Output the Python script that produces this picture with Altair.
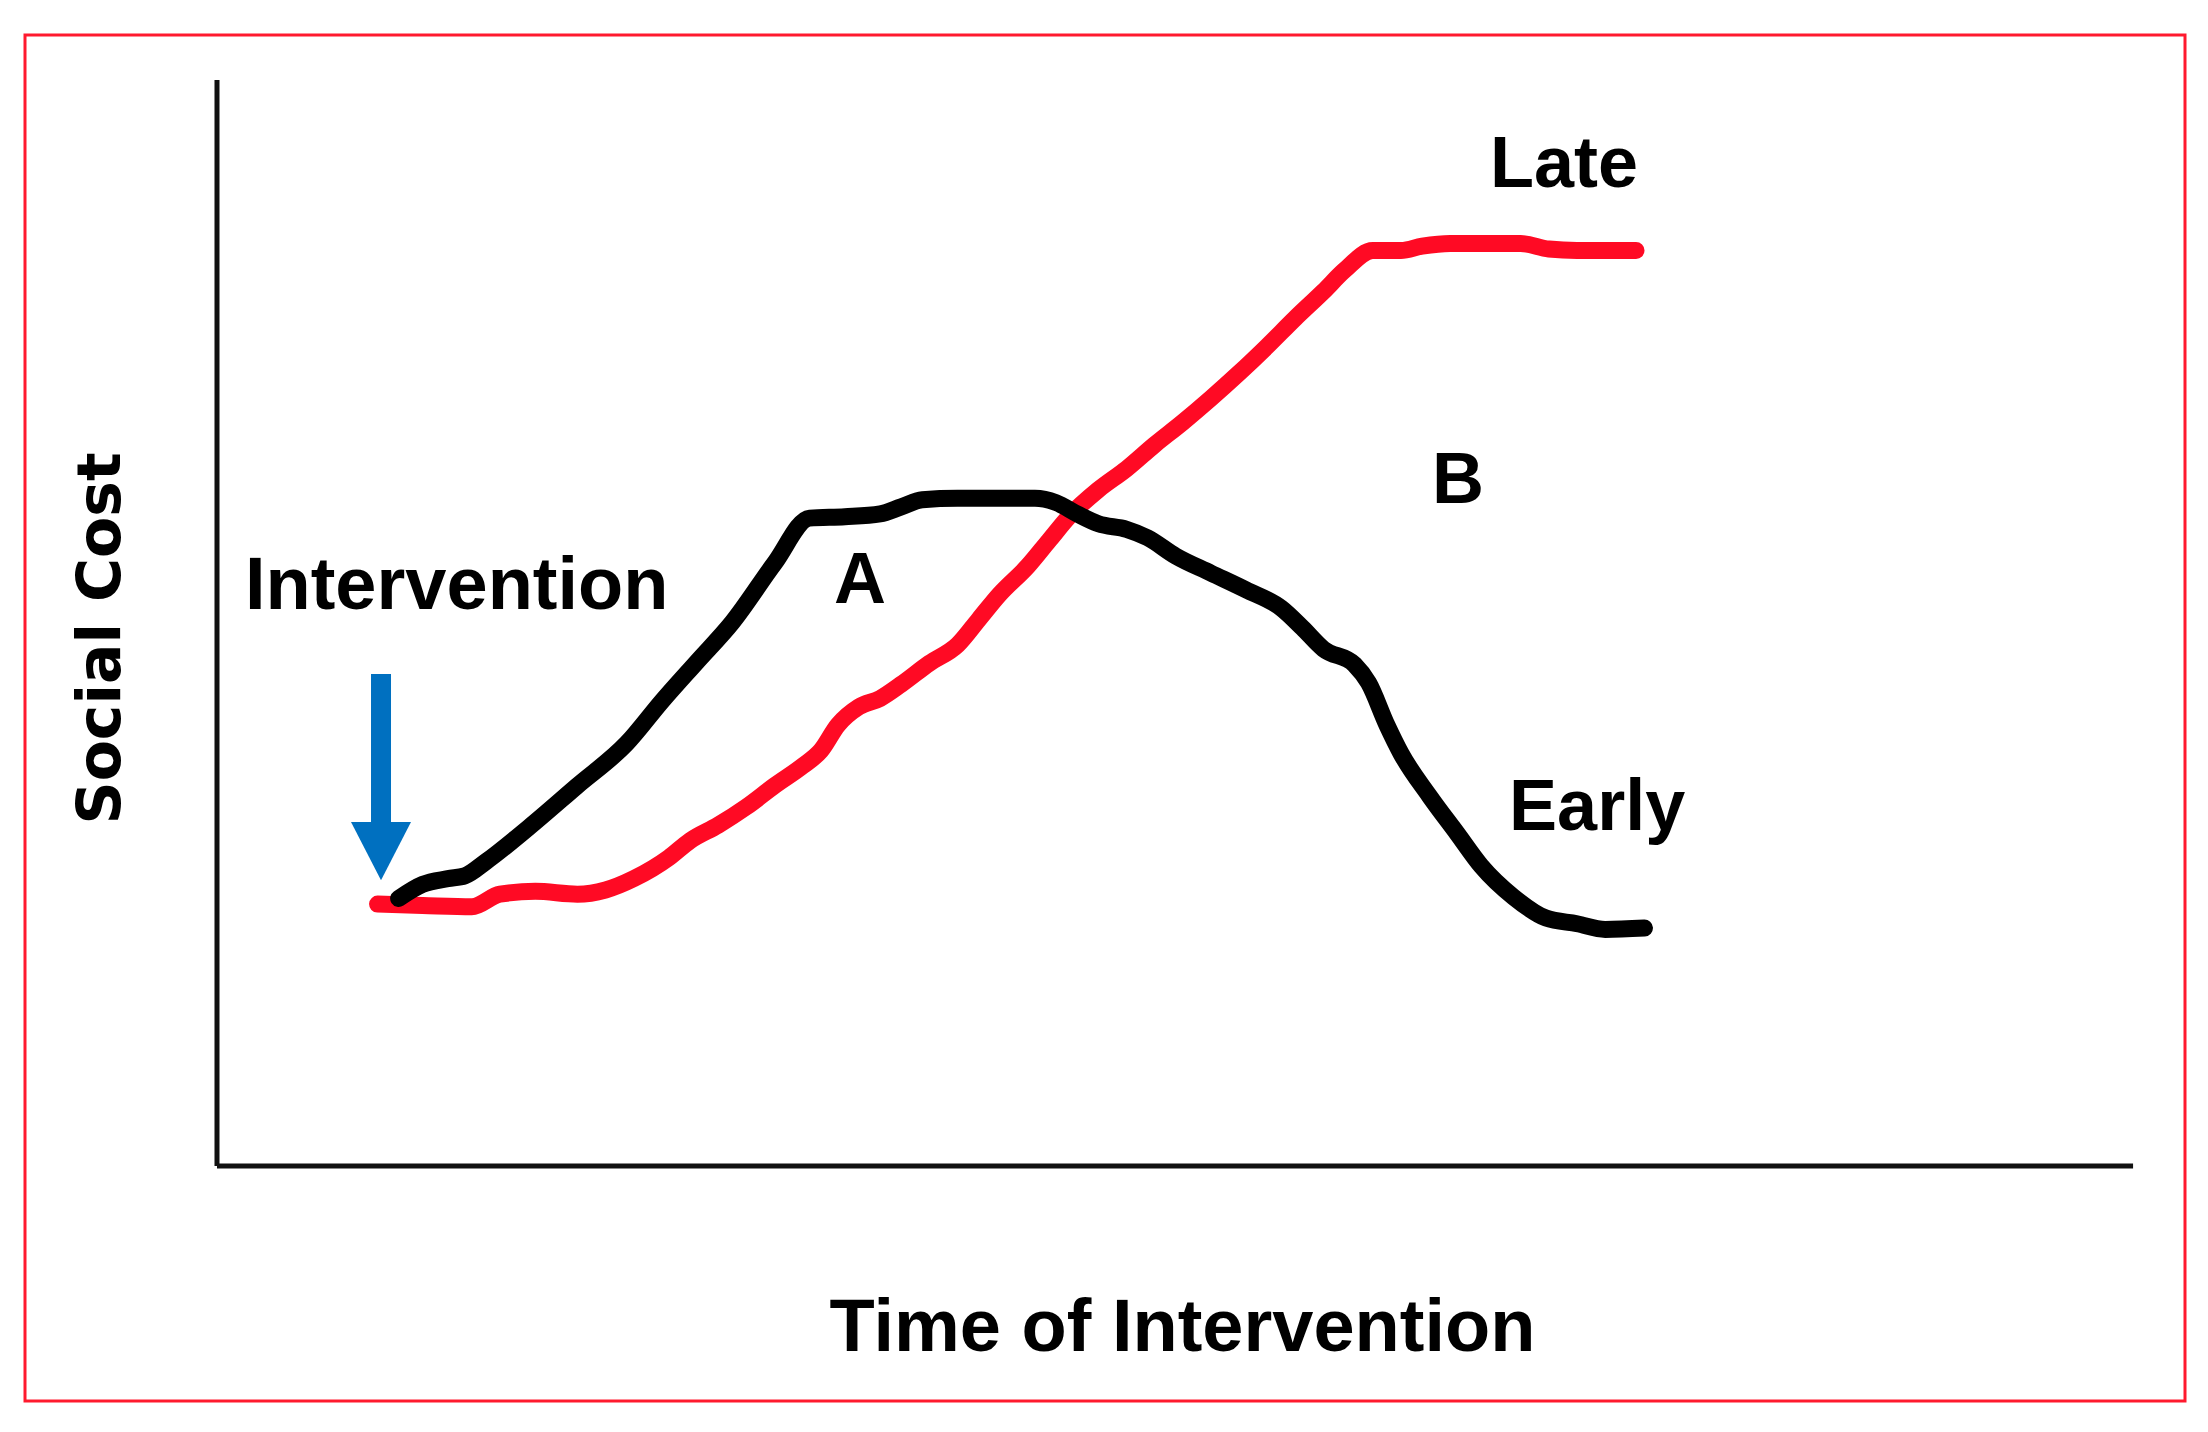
import altair as alt
import pandas as pd

# ---- data (x, y in 0-100 axis units) ----
early_x = [9.48, 10.73, 12.05, 12.93, 14.03, 16.24, 18.81, 21.38, 23.22, 25.05, 26.89, 29.10,
           30.93, 32.77, 34.61, 35.71, 36.81, 38.65, 42.69, 43.79, 44.89, 46.00, 47.47, 48.57,
           50.04, 51.87, 53.71, 55.55, 56.65, 57.75, 59.37, 60.10, 61.06, 61.79, 63.26, 64.73,
           65.98, 67.67, 69.36, 70.98, 72.45, 74.50]
early_y = [24.64, 25.94, 26.46, 26.72, 28.02, 31.13, 35.02, 38.91, 42.80, 46.43, 50.06, 55.51,
           59.66, 59.79, 60.05, 60.70, 61.35, 61.48, 61.48, 61.09, 60.05, 59.14, 58.63, 57.85,
           56.16, 54.60, 53.05, 51.36, 49.55, 47.60, 46.17, 44.49, 40.60, 38.00, 34.11, 30.61,
           27.63, 24.77, 22.83, 22.31, 21.79, 21.92]

late_x = [8.38, 10.73, 13.30, 14.77, 16.61, 18.81, 20.28, 21.75, 23.59, 24.69, 26.16, 27.63,
          29.10, 30.57, 31.52, 32.40, 33.50, 34.61, 35.71, 37.18, 38.65, 39.75, 40.85, 42.32,
          43.42, 44.53, 45.99, 47.47, 48.93, 50.40, 51.87, 53.34, 54.81, 56.28, 57.75, 58.85,
          60.32, 61.79, 62.90, 64.36, 68.04, 69.51, 70.98, 74.06]
late_y = [24.12, 23.99, 23.87, 25.03, 25.29, 25.03, 25.42, 26.46, 28.40, 29.96, 31.39, 33.07,
          35.02, 36.84, 38.26, 40.60, 42.28, 43.06, 44.36, 46.30, 47.99, 50.32, 52.66, 55.25,
          57.59, 59.92, 62.26, 64.20, 66.41, 68.48, 70.69, 73.02, 75.49, 78.08, 80.54, 82.49,
          84.31, 84.31, 84.70, 84.95, 84.95, 84.44, 84.31, 84.31]

label_text = ["Intervention", "A", "B", "Late", "Early"]
label_x = [1.46, 33.56, 64.77, 70.30, 72.03]
label_y = [51.29, 51.84, 61.05, 90.15, 30.94]
label_align = ["left", "center", "center", "center", "center"]

arrow_x = [8.56]
arrow_top = [45.3]
arrow_base = [31.3]
arrow_head_y = [29.0]

axis_x = [0, 0]
axis_x2 = [0, 100]
axis_y = [0, 0]
axis_y2 = [100, 0]

x_title = "Time of Intervention"
y_title = "Social Cost"

# ---- scales ----
XDOM = [-10.02, 102.71]
YDOM = [-21.64, 104.15]
xs = alt.Scale(domain=XDOM, nice=False, zero=False)
ys = alt.Scale(domain=YDOM, nice=False, zero=False)

FONT = "Liberation Sans"

early = pd.DataFrame({"x": early_x, "y": early_y, "o": range(len(early_x))})
late = pd.DataFrame({"x": late_x, "y": late_y, "o": range(len(late_x))})
labels = pd.DataFrame({"t": label_text, "x": label_x, "y": label_y, "a": label_align})
arrow = pd.DataFrame({"x": arrow_x, "y": arrow_top, "y2": arrow_base, "yh": arrow_head_y})
axes = pd.DataFrame({"x": axis_x, "x2": axis_x2, "y": axis_y, "y2": axis_y2})

xaxis = alt.Axis(domain=False, ticks=False, labels=False, grid=False, title=x_title,
                 titleFont=FONT, titleFontSize=74, titleFontWeight="bold", titleColor="black",
                 titleX=1157, titleY=-51, titleAlign="center", titleBaseline="alphabetic")
yaxis = alt.Axis(domain=False, ticks=False, labels=False, grid=False, title=y_title,
                 titleFont="DejaVu Sans", titleFontSize=60, titleFontWeight="bold", titleColor="black",
                 titleX=94, titleY=603, titleAngle=270, titleAlign="center", titleBaseline="alphabetic")

base_axes = alt.Chart(axes).mark_rule(color="#111111", strokeWidth=5).encode(
    x=alt.X("x:Q", scale=xs, axis=xaxis),
    x2="x2:Q",
    y=alt.Y("y:Q", scale=ys, axis=yaxis),
    y2="y2:Q",
)

early_line = alt.Chart(early).mark_line(color="#000000", strokeWidth=17, strokeCap="round",
                                        strokeJoin="round", interpolate="monotone").encode(
    x=alt.X("x:Q", scale=xs), y=alt.Y("y:Q", scale=ys), order="o:Q")

late_line = alt.Chart(late).mark_line(color="#FF0A24", strokeWidth=17, strokeCap="round",
                                      strokeJoin="round", interpolate="monotone").encode(
    x=alt.X("x:Q", scale=xs), y=alt.Y("y:Q", scale=ys), order="o:Q")

shaft = alt.Chart(arrow).mark_rule(color="#0070C0", strokeWidth=20, strokeCap="butt").encode(
    x=alt.X("x:Q", scale=xs), y=alt.Y("y:Q", scale=ys), y2="y2:Q")

head = alt.Chart(arrow).mark_point(shape="M-1,-0.97L1,-0.97L0,0.97Z", size=3600, filled=True,
                                   color="#0070C0", opacity=1, strokeWidth=0).encode(
    x=alt.X("x:Q", scale=xs), y=alt.Y("yh:Q", scale=ys))

text_left = alt.Chart(labels[labels.a == "left"]).mark_text(
    font=FONT, fontSize=74, fontWeight="bold", color="black", align="left", baseline="alphabetic"
).encode(x=alt.X("x:Q", scale=xs), y=alt.Y("y:Q", scale=ys), text="t:N")

text_center = alt.Chart(labels[labels.a == "center"]).mark_text(
    font=FONT, fontSize=72, fontWeight="bold", color="black", align="center", baseline="alphabetic"
).encode(x=alt.X("x:Q", scale=xs), y=alt.Y("y:Q", scale=ys), text="t:N")

chart = alt.layer(base_axes, late_line, early_line, shaft, head, text_left, text_center).properties(
    width=2160, height=1366,
    background="white",
    autosize=alt.AutoSizeParams(type="none"),
    padding={"left": 17, "top": 27, "right": 10, "bottom": 10},
).configure_view(stroke="#FF1A2E", strokeWidth=3)

chart.save("out.html", embed_options={"renderer": "svg", "actions": False})
